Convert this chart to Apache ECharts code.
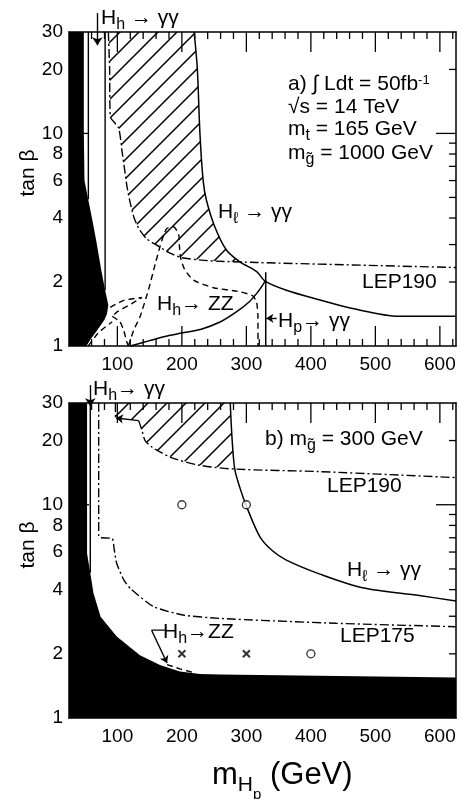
<!DOCTYPE html>
<html><head><meta charset="utf-8">
<script src="https://cdn.jsdelivr.net/npm/echarts@6/dist/echarts.min.js"></script>
<style>html,body{margin:0;padding:0;background:#fff}#c{width:461px;height:799px}</style>
</head><body><div id="c"></div>
<script>
// ---------- axis ticks ----------
const xMajorTicks = [100, 200, 300, 400, 500, 600];
const xMinorTicks = [40, 60, 80, 120, 140, 160, 180, 220, 240, 260, 280, 320, 340, 360, 380, 420, 440, 460, 480, 520, 540, 560, 580, 620];
const yTickLabels = [1, 2, 4, 6, 8, 10, 20, 30];
const yMajorTicks = [10];
const yMinorTicks = [2, 3, 4, 5, 6, 7, 8, 9, 20];

// ---------- panel a (m_gluino = 1000 GeV) ----------
const aExcluded = [[25,30],[48,30],[48,10],[49,6],[55,4.86],[62,3.8],[67,3.15],[75,2.28],[81,1.83],[86,1.56],[84,1.42],[80,1.33],[69,1.19],[58,1.07],[52,1],[25,1]];
const aHhGamLine = [[55,30],[55,4.9]];
const aHhGamEdge = [[81,30],[81,1.83]];
const aHhGamArrow = [[69,36.8],[69,26]];
const aLEP190 = [[86,30],[88,20],[89,12],[102,10.6],[107,8.35],[112,6.5],[115,5.6],[120,4.7],[126,4.0],[133,3.58],[145,3.2],[161,2.98],[180,2.75],[200,2.6],[240,2.52],[316,2.47],[625,2.34]];
const aHlGam = [[219,30],[224,20],[228,10],[233,6],[238,4.86],[251,3.64],[269,2.83],[290,2.49],[316,2.24],[329,2.02],[362,1.83],[413,1.65],[465,1.5],[537,1.38],[625,1.38]];
const aHatch = [[86,30],[88,20],[89,12],[102,10.6],[107,8.35],[112,6.5],[115,5.6],[120,4.7],[126,4.0],[133,3.58],[145,3.2],[161,2.98],[180,2.75],[200,2.6],[240,2.52],[287,2.49],[269,2.83],[251,3.64],[238,4.86],[233,6],[228,10],[224,20],[219,30]];
const aHhZZ = [[120,1],[150,1.06],[180,1.12],[200,1.15],[230,1.2],[260,1.3],[285,1.45],[305,1.62],[318,1.8],[326,1.95],[330,2.05]];
const aHpLine = [[330,1],[330,2.22]];
const aHpArrow = [[347,1.35],[331,1.35]];
const aZZDash = [[117,1],[126,1.2],[135,1.37],[148,1.83],[159,2.45],[166,2.93],[172,3.35],[177,3.58],[187,3.64],[195,3.35],[196,3.0],[198,2.6],[204,2.3],[218,2.04],[249,1.88],[290,1.8],[310,1.72],[316,1.6],[318,1.35],[318,1]];
const aDashLoop = [[89,1.52],[110,1.64],[138,1.69],[122,1.58],[100,1.45],[92,1.38]];
const aDashDown = [[92,1.38],[104,1.3],[110,1.18],[114,1.06],[117,1]];
const aDashLow = [[55,1],[70,1.15],[92,1.3]];

// ---------- panel b (m_gluino = 300 GeV) ----------
const bExcluded = [[25,30],[53,30],[53,5.9],[58,4.78],[63,3.85],[74,2.98],[99,2.41],[135,1.97],[166,1.77],[197,1.65],[228,1.61],[259,1.6],[625,1.55],[625,1],[25,1]];
const bHhGamLine = [[58,30],[58,4.8]];
const bHhGamArrow = [[58,36.4],[58,29]];
const bLEP175 = [[71,30],[71,7.1],[75,7.0],[92,6.95],[95,6.2],[99,5.3],[110,4.44],[120,4.05],[156,3.33],[202,3.04],[259,2.93],[439,2.78],[625,2.68]];
const bLEP190Top = [[97,30],[97,25.5]];
const bLEP190 = [[133,24.8],[138,22.4],[143,20],[153,18.7],[166,17.7],[187,16.5],[228,15.3],[282,14.7],[414,14.3],[625,13.4]];
const bArrowTL = [[133,24.8],[98,25.5]];
const bHatch = [[97,30],[97,25.5],[133,24.8],[138,22.4],[143,20],[153,18.7],[166,17.7],[187,16.5],[228,15.3],[282,14.7],[278,20],[275,30]];
const bHlGam = [[275,30],[278,20],[282,14.7],[290,12],[300,9.86],[321,7.07],[340,6.1],[362,5.5],[414,4.73],[480,4.08],[568,3.75],[625,3.54]];
const bZZDash = [[177,1.78],[197,1.7],[219,1.63]];
const bZZBracket = [[174,2.58],[153,2.58]];
const bZZArrow = [[153,2.58],[177,1.81]];
const bCircles = [[200,10],[300,10],[400,2]];
const bCrosses = [[200,2],[300,2]];

// ---------- build ----------
const FONT = '"Liberation Sans", Arial, Helvetica, sans-serif';
const L = v => Math.log10(v);
const tr = pts => pts.map(p => [p[0], L(p[1])]);
const DASH = [6, 4];
const DASHDOT = [9, 3, 2, 3];
const XMIN = 25, XMAX = 625, YMIN = 1, YMAX = 30;

const grids = [
  {left: 69, top: 32, width: 387, height: 314},
  {left: 69, top: 403, width: 387, height: 315}
];

function xAx(g, pos, showLabel) {
  return {type: 'value', gridIndex: g, position: pos, min: XMIN, max: XMAX,
    axisLine: {show: true, onZero: false, lineStyle: {color: '#000', width: 1.5}},
    axisTick: {show: false},
    axisLabel: {show: showLabel, customValues: xMajorTicks, color: '#000', fontSize: 19, fontFamily: FONT, margin: 9},
    splitLine: {show: false}};
}
function yAx(g, pos, showLabel) {
  return {type: 'value', gridIndex: g, position: pos, min: L(YMIN), max: L(YMAX),
    axisLine: {show: true, onZero: false, lineStyle: {color: '#000', width: 1.5}},
    axisTick: {show: false},
    axisLabel: {show: showLabel, customValues: yTickLabels.map(L), color: '#000', fontSize: 19, fontFamily: FONT, margin: 6,
      formatter: v => String(Math.round(Math.pow(10, v)))},
    splitLine: {show: false}};
}
const xAxes = [], yAxes = [];
for (let g = 0; g < 2; g++) {
  xAxes.push(xAx(g, 'bottom', true), xAx(g, 'top', false));
  yAxes.push(yAx(g, 'left', true), yAx(g, 'right', false));
}

function hatchCanvas() {
  const s = 19, c = document.createElement('canvas');
  c.width = s; c.height = s;
  const ctx = c.getContext('2d');
  ctx.strokeStyle = '#000'; ctx.lineWidth = 1.5;
  ctx.beginPath();
  ctx.moveTo(-2, s + 2); ctx.lineTo(s + 2, -2);
  ctx.moveTo(-2, 2); ctx.lineTo(2, -2);
  ctx.moveTo(s - 2, s + 2); ctx.lineTo(s + 2, s - 2);
  ctx.stroke();
  return c;
}
const HATCH = {image: hatchCanvas(), repeat: 'repeat'};

function poly(g, pts, fill, z) {
  const data = tr(pts);
  return {type: 'custom', coordinateSystem: 'cartesian2d', xAxisIndex: g * 2, yAxisIndex: g * 2,
    data: data, silent: true, z: z, animation: false,
    renderItem: (params, api) => {
      if (params.dataIndex !== 0) return null;
      return {type: 'polygon', shape: {points: data.map(p => api.coord(p))}, style: {fill: fill, stroke: null}};
    }};
}
function line(g, pts, type, width, smooth) {
  return {type: 'line', xAxisIndex: g * 2, yAxisIndex: g * 2, data: tr(pts), symbol: 'none', showSymbol: false,
    smooth: smooth === undefined ? 0.3 : smooth, clip: false, silent: true, z: 4, animation: false,
    lineStyle: {color: '#000', width: width || 1.4, type: type || 'solid'}};
}
function arrow(g, pts, size) {
  const d = tr(pts);
  return {type: 'lines', coordinateSystem: 'cartesian2d', xAxisIndex: g * 2, yAxisIndex: g * 2, clip: false,
    silent: true, z: 5, animation: false, symbol: ['none', 'arrow'], symbolSize: size || 8,
    lineStyle: {color: '#000', width: 1.4, opacity: 1, curveness: 0},
    data: [{coords: d}]};
}

const series = [
  // panel a
  poly(0, aHatch, HATCH, 1),
  poly(0, aExcluded, '#000', 3),
  line(0, aHhGamLine, 'solid', 1.4, 0),
  line(0, aHhGamEdge, 'solid', 1.4, 0),
  arrow(0, aHhGamArrow, 8),
  line(0, aLEP190, DASHDOT, 1.4, 0.2),
  line(0, aHlGam, 'solid', 1.5, 0.3),
  line(0, aHhZZ, 'solid', 1.5, 0.3),
  line(0, aHpLine, 'solid', 1.5, 0),
  arrow(0, aHpArrow, 7),
  line(0, aZZDash, DASH, 1.4, 0.2),
  line(0, aDashLoop, DASH, 1.4, 0.2),
  line(0, aDashDown, DASH, 1.4, 0.2),
  line(0, aDashLow, DASH, 1.4, 0.2),
  // panel b
  poly(1, bHatch, HATCH, 1),
  poly(1, bExcluded, '#000', 3),
  line(1, bHhGamLine, 'solid', 1.4, 0),
  arrow(1, bHhGamArrow, 8),
  line(1, bLEP175, DASHDOT, 1.4, 0.2),
  line(1, bLEP190Top, DASHDOT, 1.4, 0),
  line(1, bLEP190, DASHDOT, 1.4, 0.3),
  arrow(1, bArrowTL, 7),
  line(1, bHlGam, 'solid', 1.5, 0.3),
  line(1, bZZDash, DASH, 1.4, 0.2),
  line(1, bZZBracket, 'solid', 1.3, 0),
  arrow(1, bZZArrow, 7),
  {type: 'scatter', xAxisIndex: 2, yAxisIndex: 2, data: tr(bCircles), symbol: 'circle', symbolSize: 8, z: 6,
    silent: true, animation: false, itemStyle: {color: '#fff', borderColor: '#000', borderWidth: 1.3}},
  {type: 'scatter', xAxisIndex: 2, yAxisIndex: 2, data: tr(bCrosses), symbol: 'path://M0,0L10,10M10,0L0,10', symbolSize: 7, z: 6,
    silent: true, animation: false, itemStyle: {color: 'none', borderColor: '#000', borderWidth: 2}}
];

// ---------- texts ----------
const R = {
  m: {fontSize: 21, lineHeight: 22, fontFamily: FONT, fill: '#000', verticalAlign: 'top'},
  s: {fontSize: 16, lineHeight: 16, fontFamily: FONT, fill: '#000', verticalAlign: 'top', padding: [9, 0, 0, 0]},
  u: {fontSize: 13, lineHeight: 10, fontFamily: FONT, fill: '#000', verticalAlign: 'top', padding: [0, 0, 0, 0]},
  M: {fontSize: 31, lineHeight: 34, fontFamily: FONT, fill: '#000', verticalAlign: 'top'},
  S: {fontSize: 21, lineHeight: 22, fontFamily: FONT, fill: '#000', verticalAlign: 'top', padding: [15, 0, 0, 0]},
  T: {fontSize: 15, lineHeight: 16, fontFamily: FONT, fill: '#000', verticalAlign: 'top', padding: [27, 0, 0, 0]}
};
function txt(x, yc, text) {
  return {type: 'text', x: x, y: yc - 11, silent: true, z: 10,
    style: {text: text, rich: R, align: 'left', verticalAlign: 'top', fill: '#000', fontSize: 21, fontFamily: FONT}};
}
const graphics = [
  txt(101, 19, '{m|H}{s|h}{m| → γγ}'),
  txt(288, 85, '{m|a) ∫ Ldt = 50fb}{u|-1}'),
  txt(288, 108, '{m|√s = 14 TeV}'),
  txt(288, 130, '{m|m}{s|t}{m| = 165 GeV}'),
  txt(288, 154, '{m|m}{s|g\u0303}{m| = 1000 GeV}'),
  txt(218, 213, '{m|H}{s|ℓ}{m| → γγ}'),
  txt(362, 283, '{m|LEP190}'),
  txt(157, 305, '{m|H}{s|h}{m|→ ZZ}'),
  txt(278, 322, '{m|H}{s|p}{m|→ γγ}'),
  txt(93, 390, '{m|H}{s|h}{m|→ γγ}'),
  txt(265, 440, '{m|b) m}{s|g\u0303}{m| = 300 GeV}'),
  txt(327, 487, '{m|LEP190}'),
  txt(347, 571, '{m|H}{s|ℓ}{m| → γγ}'),
  txt(340, 637, '{m|LEP175}'),
  txt(163, 633, '{m|H}{s|h}{m|→ZZ}'),
  {type: 'text', x: 28, y: 173, rotation: Math.PI / 2, silent: true,
    style: {text: 'tan β', fontSize: 21, fontFamily: FONT, fill: '#000', align: 'center', verticalAlign: 'middle'}},
  {type: 'text', x: 28, y: 545, rotation: Math.PI / 2, silent: true,
    style: {text: 'tan β', fontSize: 21, fontFamily: FONT, fill: '#000', align: 'center', verticalAlign: 'middle'}},
  {type: 'text', x: 212, y: 760, silent: true,
    style: {text: '{M|m}{S|H}{T|p}{M| (GeV)}', rich: R, align: 'left', verticalAlign: 'top', fontSize: 31, fontFamily: FONT, fill: '#000'}}
];

const chart = echarts.init(document.getElementById('c'), null, {renderer: 'canvas'});
chart.setOption({
  animation: false,
  backgroundColor: '#fff',
  grid: grids,
  xAxis: xAxes,
  yAxis: yAxes,
  series: series,
  graphic: graphics
});

// inside tick marks: positioned through the axes' own scales
const tickEls = [];
function tick(g, pt, dx, dy) {
  const p = chart.convertToPixel({xAxisIndex: g * 2, yAxisIndex: g * 2}, pt);
  if (!p) return;
  tickEls.push({type: 'line', silent: true, z: 9,
    shape: {x1: p[0], y1: p[1], x2: p[0] + dx, y2: p[1] + dy},
    style: {stroke: '#000', lineWidth: 1.3}});
}
for (let g = 0; g < 2; g++) {
  [[xMajorTicks, 20], [xMinorTicks, 7]].forEach(([vals, len]) => vals.forEach(v => {
    tick(g, [v, L(YMIN)], 0, -len);
    tick(g, [v, L(YMAX)], 0, len);
  }));
  [[yMajorTicks, 20], [yMinorTicks, 7]].forEach(([vals, len]) => vals.forEach(v => {
    tick(g, [XMIN, L(v)], len, 0);
    tick(g, [XMAX, L(v)], -len, 0);
  }));
}
chart.setOption({graphic: graphics.concat(tickEls)});
</script></body></html>
